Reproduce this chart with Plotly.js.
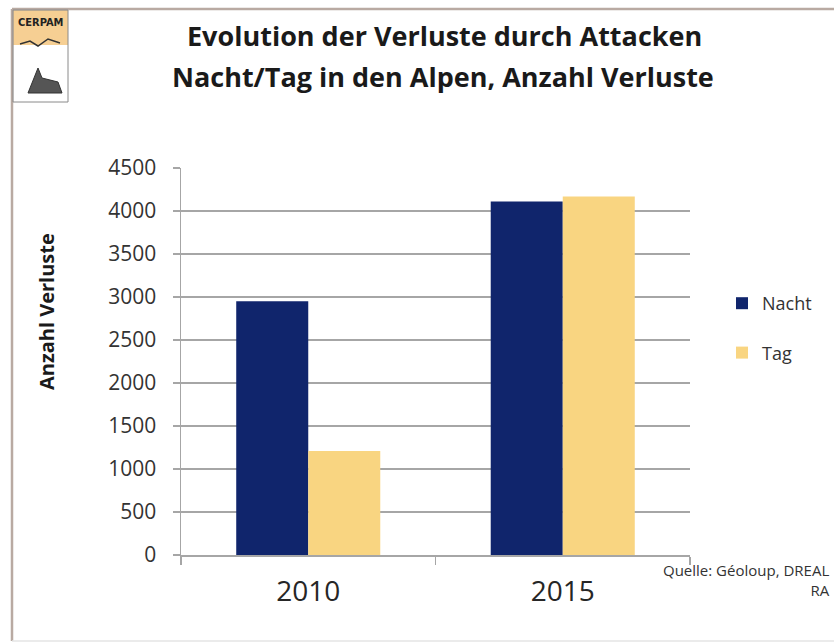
<!DOCTYPE html>
<html>
<head>
<meta charset="utf-8">
<script src="https://cdn.plot.ly/plotly-3.0.1.min.js"></script>
<style>html,body{margin:0;padding:0;background:#fff;}#chart{width:834px;height:643px;}</style>
</head>
<body>
<div id="chart"></div>
<script>
const categories = ['2010', '2015'];
const nachtValues = [2950, 4110];
const tagValues = [1210, 4170];
const seriesNames = ['Nacht', 'Tag'];
const yTicks = [0, 500, 1000, 1500, 2000, 2500, 3000, 3500, 4000, 4500];
const titleLines = ['Evolution der Verluste durch Attacken', 'Nacht/Tag in den Alpen, Anzahl Verluste'];
const yTitle = 'Anzahl Verluste';
const sourceText = 'Quelle: Géoloup, DREAL<br>RA';

const W = 834, H = 643;
const L = 181, R = 690, T = 168, B = 555;
const px = x => (x - L) / (R - L);
const py = y => (B - y) / (B - T);
const FONT = '"Open Sans", Lato, sans-serif';
const frameColor = '#b9aaa2';

const traces = [
  {type: 'bar', name: seriesNames[0], x: categories, y: nachtValues,
   marker: {color: '#10256c'}, legendgroup: 'a', hoverinfo: 'y'},
  {type: 'bar', name: seriesNames[1], x: categories, y: tagValues,
   marker: {color: '#f9d581'}, legendgroup: 'b', hoverinfo: 'y'}
];

const layout = {
  width: W, height: H,
  margin: {l: L, r: W - R, t: T, b: H - B, pad: 0},
  paper_bgcolor: '#ffffff', plot_bgcolor: '#ffffff',
  font: {family: FONT, color: '#262626'},
  barmode: 'group', bargap: 0.434, bargroupgap: 0,
  showlegend: true,
  legend: {x: px(722), y: py(285), xanchor: 'left', yanchor: 'top',
    font: {size: 18, color: '#333333', family: FONT}, tracegroupgap: 23,
    bgcolor: 'rgba(0,0,0,0)', itemwidth: 30},
  xaxis: {type: 'category', showgrid: false, showline: true, linecolor: '#a6a6a6', linewidth: 1.5,
    ticks: 'outside', tickson: 'boundaries', ticklen: 8, tickcolor: '#a6a6a6', tickwidth: 1.5,
    tickfont: {size: 28, color: '#262626', family: FONT}, ticklabelstandoff: 11, fixedrange: true},
  yaxis: {range: [0, 4500], tickvals: yTicks, ticktext: yTicks.map(String),
    showgrid: true, gridcolor: '#a6a6a6', gridwidth: 1.5, zeroline: false,
    showline: true, linecolor: '#a6a6a6', linewidth: 1.5,
    ticks: 'outside', ticklen: 7, tickcolor: '#a6a6a6', tickwidth: 1.5,
    tickfont: {size: 21, color: '#333333', family: FONT}, ticklabelstandoff: 12, fixedrange: true},
  annotations: [
    {text: '<b>' + titleLines[0] + '</b>', xref: 'paper', yref: 'paper', x: px(444), y: py(35),
     xanchor: 'center', yanchor: 'middle', showarrow: false, font: {size: 27, color: '#1a1a1a', family: FONT}},
    {text: '<b>' + titleLines[1] + '</b>', xref: 'paper', yref: 'paper', x: px(443), y: py(76),
     xanchor: 'center', yanchor: 'middle', showarrow: false, font: {size: 27, color: '#1a1a1a', family: FONT}},
    {text: '<b>' + yTitle + '</b>', xref: 'paper', yref: 'paper', x: px(46), y: py(312),
     xanchor: 'center', yanchor: 'middle', textangle: -90, showarrow: false,
     font: {size: 20, color: '#1a1a1a', family: FONT}},
    {text: sourceText, xref: 'paper', yref: 'paper', x: px(832), y: py(558),
     xanchor: 'right', yanchor: 'top', align: 'right', showarrow: false,
     font: {size: 15, color: '#333333', family: FONT}},
    {text: '<b>CERPAM</b>', xref: 'paper', yref: 'paper', x: px(40), y: py(22),
     xanchor: 'center', yanchor: 'middle', showarrow: false,
     font: {size: 11, color: '#222222', family: '"DejaVu Sans Condensed", "Liberation Sans Narrow", sans-serif'}}
  ],
  shapes: [
    {type: 'line', xref: 'paper', yref: 'paper', x0: px(12), x1: px(834), y0: py(9), y1: py(9),
     line: {color: frameColor, width: 2.5}},
    {type: 'line', xref: 'paper', yref: 'paper', x0: px(12), x1: px(12), y0: py(9), y1: py(641),
     line: {color: frameColor, width: 2.5}},
    {type: 'line', xref: 'paper', yref: 'paper', x0: px(12), x1: px(834), y0: py(641), y1: py(641),
     line: {color: '#e4e4e4', width: 1.5}},
    {type: 'rect', xref: 'paper', yref: 'paper', x0: px(13), x1: px(68), y0: py(10), y1: py(45),
     fillcolor: '#f6cf93', line: {width: 0}, layer: 'below'},
    {type: 'rect', xref: 'paper', yref: 'paper', x0: px(13), x1: px(68), y0: py(10), y1: py(102),
     fillcolor: 'rgba(0,0,0,0)', line: {color: '#8a8a8a', width: 1}},
    {type: 'path', xref: 'paper', yref: 'paper',
     path: 'M ' + px(20) + ' ' + py(44) + ' L ' + px(30) + ' ' + py(41) + ' L ' + px(38) + ' ' + py(46) +
           ' L ' + px(48) + ' ' + py(39) + ' L ' + px(60) + ' ' + py(43),
     line: {color: '#333333', width: 1.5}},
    {type: 'path', xref: 'paper', yref: 'paper',
     path: 'M ' + px(28) + ' ' + py(93) + ' L ' + px(34) + ' ' + py(78) + ' L ' + px(38) + ' ' + py(68) +
           ' L ' + px(42) + ' ' + py(78) + ' L ' + px(58) + ' ' + py(82) + ' L ' + px(62) + ' ' + py(93) + ' Z',
     fillcolor: '#555555', line: {color: '#333333', width: 1}}
  ]
};

Plotly.newPlot('chart', traces, layout, {staticPlot: true, displayModeBar: false});
</script>
</body>
</html>
